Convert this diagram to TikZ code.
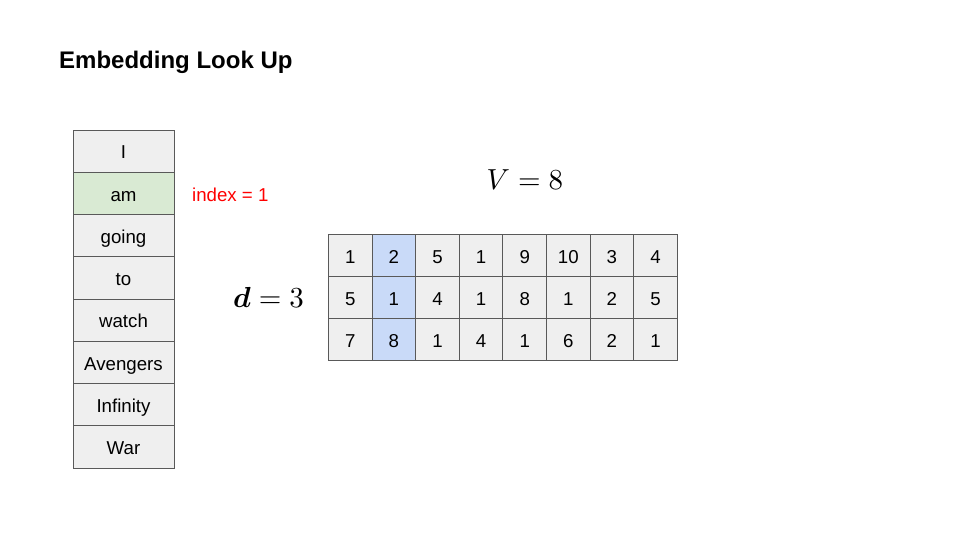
\documentclass[tikz,border=0pt]{standalone}
\usepackage[no-math]{fontspec}
\usepackage{amsmath}
\setmainfont{Liberation Sans}
\definecolor{cellgray}{HTML}{EFEFEF}
\definecolor{cellgreen}{HTML}{D9EAD3}
\definecolor{cellblue}{HTML}{C9DAF8}
\definecolor{cellline}{HTML}{595959}
\begin{document}
\begin{tikzpicture}[x=1pt,y=-1pt,
  cell/.style={draw=cellline,line width=0.9pt,fill=cellgray,inner sep=0pt,
    text height=15.6pt,text depth=0pt,
    font=\fontsize{18.67}{22}\selectfont},
  wordcell/.style={cell,minimum width=101pt,minimum height=42.25pt},
  numcell/.style={cell,minimum width=43.6pt,minimum height=42.1pt},
  mathlabel/.style={inner sep=0pt}]
\useasboundingbox (0,0) rectangle (960,540);
\node[anchor=base west,inner sep=0pt,font=\fontsize{24}{28}\selectfont\bfseries] (title) at (59,69) {Embedding Look Up};
% word column
\foreach \w [count=\i from 0] in {I,am,going,to,watch,Avengers,Infinity,War}{
  \node[wordcell] (w\i) at (123.5,{151.1+42.25*\i}) {\w};
}
\node[wordcell,fill=cellgreen] (w1) at (123.5,193.35) {am};
\node[anchor=base west,inner sep=0pt,text=red,font=\fontsize{18.67}{22}\selectfont] (idx) at (192,201) {index = 1};
% matrix
\foreach \r [count=\j from 0] in {{1,2,5,1,9,10,3,4},{5,1,4,1,8,1,2,5},{7,8,1,4,1,6,2,1}}{
  \foreach \v [count=\i from 0] in \r {
    \ifnum\i=1
      \node[numcell,fill=cellblue] (m\j\i) at ({350.3+43.6*\i},{255.55+42.1*\j}) {\v};
    \else
      \node[numcell] (m\j\i) at ({350.3+43.6*\i},{255.55+42.1*\j}) {\v};
    \fi
  }
}
\node[mathlabel] (V) at (525,180) {\scalebox{2.9}{$V=8$}};
\node[mathlabel] (d) at (268.5,297) {\scalebox{2.9}{$\boldsymbol{d}=3$}};
\end{tikzpicture}
\end{document}
